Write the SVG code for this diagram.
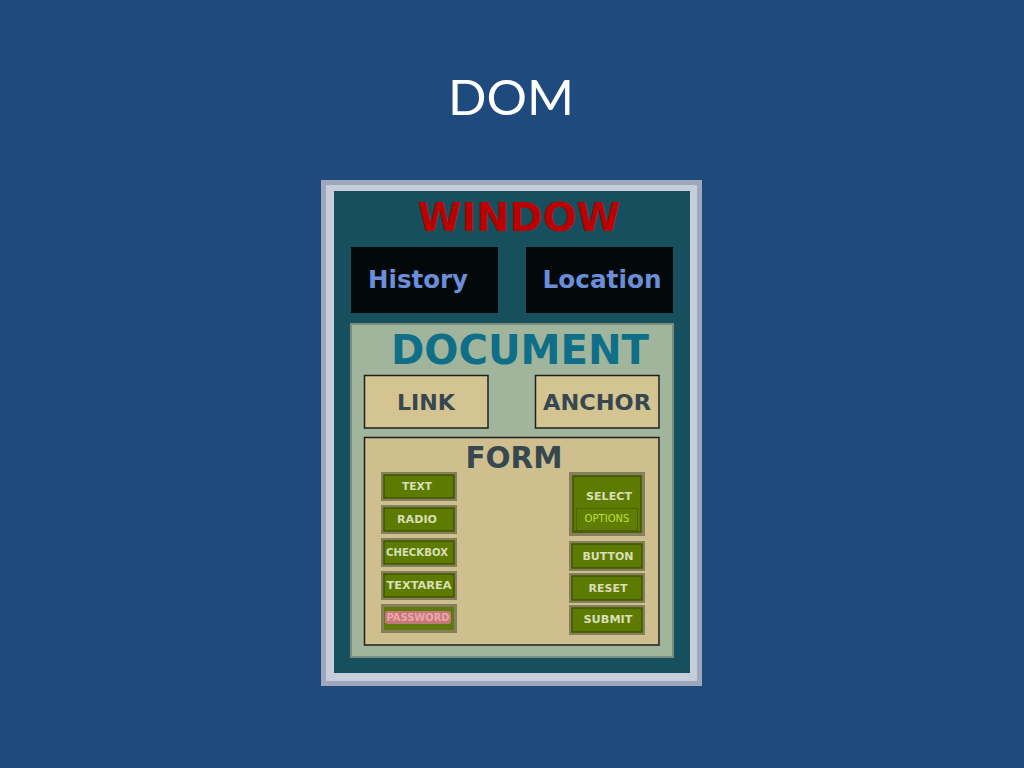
<svg xmlns="http://www.w3.org/2000/svg" width="1024" height="768" viewBox="0 0 1024 768">
<style>
.b{font-family:"DejaVu Sans","Liberation Sans",sans-serif;font-weight:bold;text-anchor:middle}
.dark{fill:#03090b}
.tan{fill:#d3c491;stroke:#1c2020;stroke-width:1.5}
.lbl{fill:#37474f}
.hl{fill:#6a8fd8}
.ob{fill:#85805c}
.gi{fill:#5c7b00;stroke:#3f5500;stroke-width:1.5}
.bt{fill:#dadeb8;font-size:11px}
</style>
<rect width="1024" height="768" fill="#1f4a7d"/>
<text x="511" y="115" font-family="Lato,'Open Sans',sans-serif" font-size="48" fill="#ffffff" text-anchor="middle" textLength="126" lengthAdjust="spacingAndGlyphs">DOM</text>
<g id="window">
<rect x="321" y="180" width="381" height="506" fill="#9ea8ba"/>
<rect x="326" y="185" width="371" height="496" fill="#c7cedb"/>
<rect x="334" y="191" width="356" height="482" fill="#16505f"/>
<text class="b" x="519" y="231" font-size="39" fill="#bb0000" textLength="203" lengthAdjust="spacingAndGlyphs">WINDOW</text>
</g>
<g id="history">
<rect class="dark" x="351" y="247" width="147" height="66"/>
<text class="b hl" x="418" y="288" font-size="25" textLength="100" lengthAdjust="spacingAndGlyphs">History</text>
</g>
<g id="location">
<rect class="dark" x="526" y="247" width="147" height="66"/>
<text class="b hl" x="602" y="288" font-size="25" textLength="119" lengthAdjust="spacingAndGlyphs">Location</text>
</g>
<g id="document">
<rect x="351" y="324" width="322" height="333" fill="#a0b59b" stroke="#7d8c7c" stroke-width="2"/>
<text class="b" x="520" y="364" font-size="40" fill="#0f6e88" textLength="258" lengthAdjust="spacingAndGlyphs">DOCUMENT</text>
</g>
<g id="link">
<rect class="tan" x="364.5" y="375.5" width="123.5" height="52.5"/>
<text class="b lbl" x="426" y="410" font-size="22" textLength="58" lengthAdjust="spacingAndGlyphs">LINK</text>
</g>
<g id="anchor">
<rect class="tan" x="535.5" y="375.5" width="123.5" height="52.5"/>
<text class="b lbl" x="597" y="410" font-size="22" textLength="108" lengthAdjust="spacingAndGlyphs">ANCHOR</text>
</g>
<g id="form">
<rect x="364.5" y="437.5" width="294.5" height="207.5" fill="#cfbf8e" stroke="#1c2020" stroke-width="1.5"/>
<text class="b lbl" x="514" y="468" font-size="30" textLength="97" lengthAdjust="spacingAndGlyphs">FORM</text>
</g>
<g id="text">
<rect class="ob" x="381" y="472" width="76" height="29"/>
<rect class="gi" x="384" y="475" width="70" height="23"/>
<text class="b bt" x="417" y="490" textLength="30" lengthAdjust="spacingAndGlyphs">TEXT</text>
</g>
<g id="radio">
<rect class="ob" x="381" y="505" width="76" height="29"/>
<rect class="gi" x="384" y="508" width="70" height="23"/>
<text class="b bt" x="417" y="523" textLength="40" lengthAdjust="spacingAndGlyphs">RADIO</text>
</g>
<g id="checkbox">
<rect class="ob" x="381" y="538" width="76" height="29"/>
<rect class="gi" x="384" y="541" width="70" height="23"/>
<text class="b bt" x="417" y="556" textLength="62" lengthAdjust="spacingAndGlyphs">CHECKBOX</text>
</g>
<g id="textarea">
<rect class="ob" x="381" y="571" width="76" height="29"/>
<rect class="gi" x="384" y="574" width="70" height="23"/>
<text class="b bt" x="419" y="589" textLength="65" lengthAdjust="spacingAndGlyphs">TEXTAREA</text>
</g>
<g id="password">
<rect class="ob" x="381" y="604" width="76" height="29"/>
<rect x="384" y="607" width="70" height="23" fill="#607a10"/>
<rect x="385" y="611" width="66" height="13" rx="3" fill="#c27a78"/>
<text class="b" x="418" y="621" font-size="10" fill="#f0a4ac" textLength="63" lengthAdjust="spacingAndGlyphs">PASSWORD</text>
</g>
<g id="select">
<rect class="ob" x="569" y="472" width="76" height="64"/>
<rect class="gi" x="573" y="476" width="68" height="56"/>
<text class="b bt" x="609" y="500" textLength="46" lengthAdjust="spacingAndGlyphs">SELECT</text>
<g id="options">
<rect x="576.5" y="508.5" width="61" height="22" fill="#5e7d02" stroke="#4a6500" stroke-width="1"/>
<text x="607" y="522" font-family="'DejaVu Sans','Liberation Sans',sans-serif" font-size="10" fill="#b8e040" text-anchor="middle" textLength="45" lengthAdjust="spacingAndGlyphs">OPTIONS</text>
</g>
</g>
<g id="button">
<rect class="ob" x="569" y="541" width="76" height="30"/>
<rect class="gi" x="572" y="544" width="70" height="24"/>
<text class="b bt" x="608" y="560" textLength="51" lengthAdjust="spacingAndGlyphs">BUTTON</text>
</g>
<g id="reset">
<rect class="ob" x="569" y="573" width="76" height="30"/>
<rect class="gi" x="572" y="576" width="70" height="24"/>
<text class="b bt" x="608" y="592" textLength="39" lengthAdjust="spacingAndGlyphs">RESET</text>
</g>
<g id="submit">
<rect class="ob" x="569" y="605" width="76" height="30"/>
<rect class="gi" x="572" y="608" width="70" height="24"/>
<text class="b bt" x="608" y="623" textLength="49" lengthAdjust="spacingAndGlyphs">SUBMIT</text>
</g>
<g id="connectors"/>
</svg>
